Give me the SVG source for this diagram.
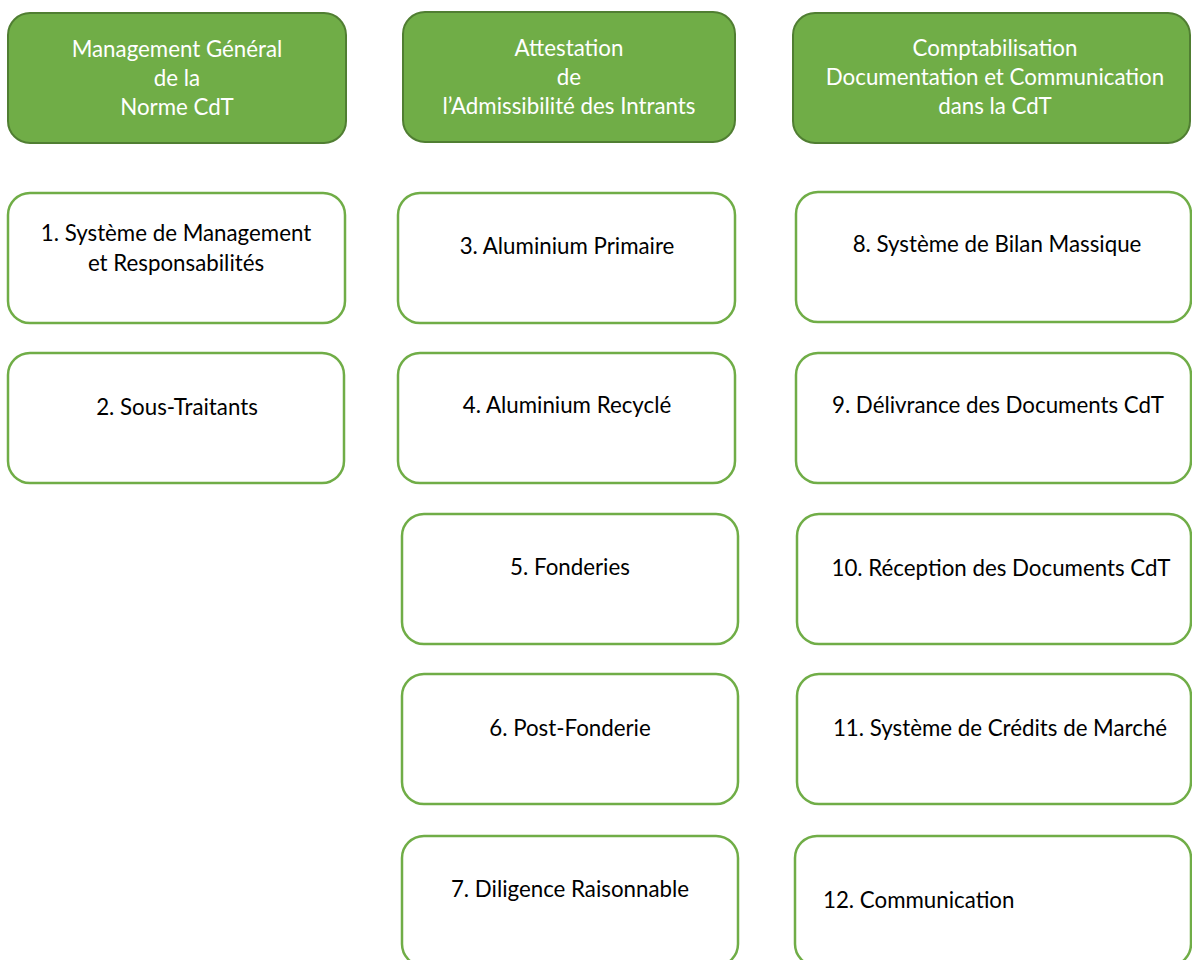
<svg xmlns="http://www.w3.org/2000/svg" width="1192" height="960" viewBox="0 0 1192 960">
<style>
.hdr{fill:#70AD47;stroke:#507E32;stroke-width:2}
.box{fill:#FFFFFF;stroke:#70AD47;stroke-width:2.5}
.ht{font-family:Lato,"Liberation Sans",sans-serif;font-size:22.3px;fill:#FFFFFF;text-anchor:middle}
.bt{font-family:Lato,"Liberation Sans",sans-serif;font-size:22.3px;fill:#000000;text-anchor:middle}
.bl{font-family:Lato,"Liberation Sans",sans-serif;font-size:22.3px;fill:#000000;text-anchor:start}
</style>
<rect width="1192" height="960" fill="#FFFFFF"/>
<g id="h1"><rect class="hdr" x="8" y="13" width="338" height="130" rx="22"/>
<text class="ht" x="177" y="57">Management Général</text>
<text class="ht" x="177" y="86">de la</text>
<text class="ht" x="177" y="115">Norme CdT</text></g>
<g id="h2"><rect class="hdr" x="403" y="12" width="332" height="130" rx="22"/>
<text class="ht" x="569" y="56">Attestation</text>
<text class="ht" x="569" y="85">de</text>
<text class="ht" x="569" y="114">l’Admissibilité des Intrants</text></g>
<g id="h3"><rect class="hdr" x="793" y="13" width="397" height="130" rx="22"/>
<text class="ht" x="995" y="56">Comptabilisation</text>
<text class="ht" x="995" y="85">Documentation et Communication</text>
<text class="ht" x="995" y="114">dans la CdT</text></g>
<g id="n1"><rect class="box" x="8" y="193" width="337" height="130" rx="22"/>
<text class="bt" x="176" y="241">1. Système de Management</text>
<text class="bt" x="176" y="271">et Responsabilités</text></g>
<g id="n2"><rect class="box" x="8" y="353" width="336" height="130" rx="22"/>
<text class="bt" x="177" y="415">2. Sous-Traitants</text></g>
<g id="n3"><rect class="box" x="398" y="193" width="337" height="130" rx="22"/>
<text class="bt" x="567" y="254">3. Aluminium Primaire</text></g>
<g id="n4"><rect class="box" x="398" y="353" width="337" height="130" rx="22"/>
<text class="bt" x="567" y="413">4. Aluminium Recyclé</text></g>
<g id="n5"><rect class="box" x="402" y="514" width="336" height="130" rx="22"/>
<text class="bt" x="570" y="575">5. Fonderies</text></g>
<g id="n6"><rect class="box" x="402" y="674" width="336" height="130" rx="22"/>
<text class="bt" x="570" y="736">6. Post-Fonderie</text></g>
<g id="n7"><rect class="box" x="402" y="836" width="336" height="130" rx="22"/>
<text class="bt" x="570" y="897">7. Diligence Raisonnable</text></g>
<g id="n8"><rect class="box" x="796" y="192" width="395" height="130" rx="22"/>
<text class="bt" x="997" y="252">8. Système de Bilan Massique</text></g>
<g id="n9"><rect class="box" x="796" y="353" width="395" height="130" rx="22"/>
<text class="bt" x="998" y="413">9. Délivrance des Documents CdT</text></g>
<g id="n10"><rect class="box" x="797" y="514" width="394" height="130" rx="22"/>
<text class="bt" x="1001" y="576">10. Réception des Documents CdT</text></g>
<g id="n11"><rect class="box" x="797" y="674" width="394" height="130" rx="22"/>
<text class="bt" x="1000" y="736">11. Système de Crédits de Marché</text></g>
<g id="n12"><rect class="box" x="795" y="836" width="396" height="130" rx="22"/>
<text class="bl" x="823" y="908">12. Communication</text></g>
<g id="connectors"></g>
</svg>
